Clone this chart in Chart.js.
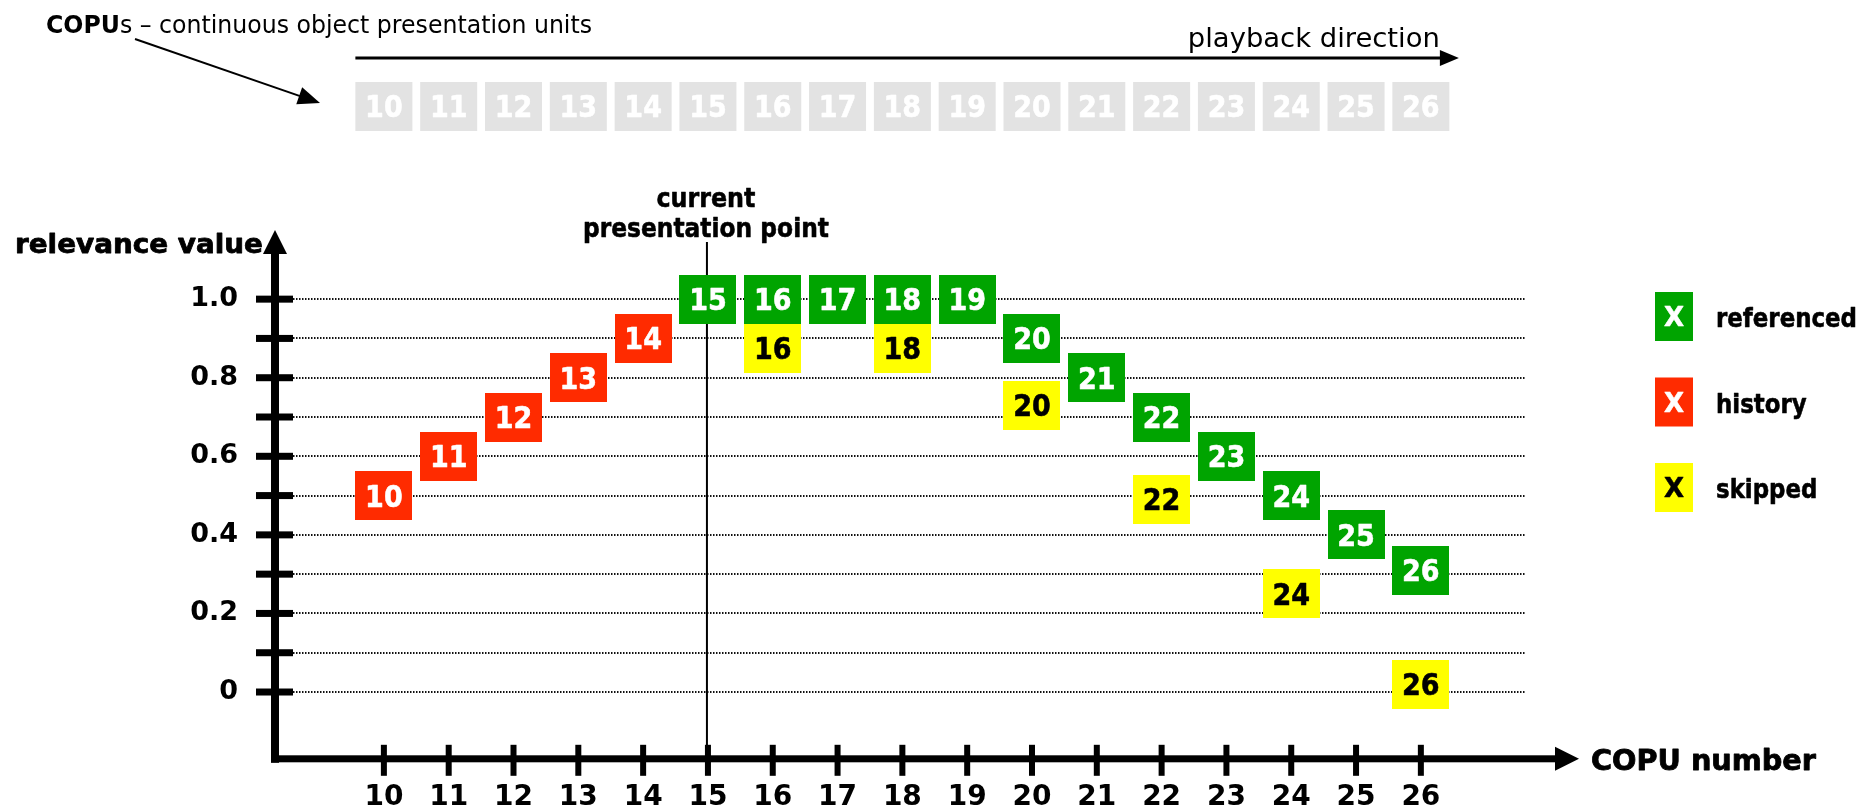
<!DOCTYPE html>
<html>
<head>
<meta charset="utf-8">
<script src="https://cdn.jsdelivr.net/npm/chart.js@4/dist/chart.umd.min.js"></script>
<style>
html,body{margin:0;padding:0;background:#ffffff;}
canvas{display:block;}
</style>
</head>
<body>
<canvas id="c" width="1872" height="812"></canvas>
<script>
// ---------------- DATA ----------------
const copuNumbers   = [10,11,12,13,14,15,16,17,18,19,20,21,22,23,24,25,26];
const historyX      = [10,11,12,13,14];
const historyY      = [0.50,0.60,0.70,0.80,0.90];
const referencedX   = [15,16,17,18,19,20,21,22,23,24,25,26];
const referencedY   = [1.00,1.00,1.00,1.00,1.00,0.90,0.80,0.70,0.60,0.50,0.40,0.31];
const skippedX      = [16,18,20,22,24,26];
const skippedY      = [0.875,0.875,0.73,0.49,0.25,0.02];
const yTickValues   = [0,0.1,0.2,0.3,0.4,0.5,0.6,0.7,0.8,0.9,1.0];
const yTickLabels   = ['0','','0.2','','0.4','','0.6','','0.8','','1.0'];
const xTickValues   = copuNumbers;
const xTickLabels   = ['10','11','12','13','14','15','16','17','18','19','20','21','22','23','24','25','26'];
const currentPoint  = 15;
const legendLabels  = ['referenced','history','skipped'];
const legendMark    = 'X';
const yAxisTitle    = 'relevance value';
const xAxisTitle    = 'COPU number';
const currentTitle  = ['current','presentation point'];
const topTitleBold  = 'COPU';
const topTitleRest  = 's \u2013 continuous object presentation units';
const playbackText  = 'playback direction';

// ---------------- STYLE ----------------
const FONT = "'DejaVu Sans', Verdana, sans-serif";
const COL = { referenced:'#00a400', history:'#ff2b00', skipped:'#ffff00', grey:'#e3e3e3' };
const BOX_W = 57, BOX_H = 49;
const X_MIN = 8.32, X_MAX = 28.44, Y_MIN = -0.17, Y_MAX = 1.176;
const GRID_END = 27.62;
const NUM_SIZE = 30, NUM_K = 0.9;

function makeBox(color, w, h) {
  const c = document.createElement('canvas');
  c.width = w; c.height = h;
  const g = c.getContext('2d');
  g.fillStyle = color; g.fillRect(0, 0, w, h);
  return c;
}

// draw text; k = horizontal scale factor (targetW overrides)
function txt(ctx, s, x, y, size, bold, color, align, targetW, k, heavy) {
  ctx.save();
  ctx.font = (bold ? 'bold ' : '') + size + 'px ' + FONT;
  ctx.fillStyle = color;
  ctx.strokeStyle = color;
  ctx.textBaseline = 'alphabetic';
  ctx.textAlign = 'left';
  const w = ctx.measureText(s).width;
  const kk = targetW ? targetW / w : (k || 1);
  const x0 = align === 'center' ? x - w * kk / 2 : (align === 'right' ? x - w * kk : x);
  ctx.translate(x0, y);
  ctx.scale(kk, 1);
  ctx.fillText(s, 0, 0);
  if (heavy) { ctx.lineWidth = heavy; ctx.lineJoin = 'round'; ctx.strokeText(s, 0, 0); }
  ctx.restore();
}

function arrowHead(ctx, tx, ty, ang, len, half) {
  ctx.save();
  ctx.translate(tx, ty);
  ctx.rotate(ang);
  ctx.beginPath();
  ctx.moveTo(0, 0);
  ctx.lineTo(-len, -half);
  ctx.lineTo(-len, half);
  ctx.closePath();
  ctx.fill();
  ctx.restore();
}

const decor = {
  id: 'decor',
  beforeDatasetsDraw(chart) {
    const ctx = chart.ctx, xs = chart.scales.x, ys = chart.scales.y, ca = chart.chartArea;
    ctx.save();
    // dotted grid lines
    ctx.strokeStyle = '#111111';
    ctx.lineWidth = 2;
    ctx.setLineDash([1.5, 1.5]);
    yTickValues.forEach(v => {
      const y = Math.round(ys.getPixelForValue(v));
      ctx.beginPath();
      ctx.moveTo(ca.left + 18, y);
      ctx.lineTo(xs.getPixelForValue(GRID_END), y);
      ctx.stroke();
    });
    ctx.setLineDash([]);
    // current presentation point line
    const cx = xs.getPixelForValue(currentPoint) - 1;
    ctx.strokeStyle = '#000';
    ctx.lineWidth = 2;
    ctx.beginPath();
    ctx.moveTo(cx, 242);
    ctx.lineTo(cx, ca.bottom);
    ctx.stroke();
    // y axis with arrow and ticks
    ctx.fillStyle = '#000';
    ctx.fillRect(ca.left - 4, 250, 8, ca.bottom + 4 - 250);
    arrowHead(ctx, ca.left, ca.top, -Math.PI / 2, 24, 12);
    yTickValues.forEach(v => {
      const y = ys.getPixelForValue(v);
      ctx.fillRect(ca.left - 19, y - 3.5, 37, 7);
    });
    // x axis with arrow and ticks
    ctx.fillRect(ca.left - 4, ca.bottom - 3.5, ca.right - 22 - (ca.left - 4), 7);
    arrowHead(ctx, ca.right, ca.bottom, 0, 24, 12);
    xTickValues.forEach(v => {
      const x = xs.getPixelForValue(v);
      ctx.fillRect(x - 3, ca.bottom - 14, 6, 31);
    });
    ctx.restore();
  },
  afterDatasetsDraw(chart) {
    const ctx = chart.ctx;
    chart.data.datasets.forEach((ds, d) => {
      const meta = chart.getDatasetMeta(d);
      meta.data.forEach((pt, i) => {
        txt(ctx, String(ds.data[i].x), pt.x, pt.y + 0.729 * NUM_SIZE / 2, NUM_SIZE, true, ds.textColor, 'center', null, NUM_K, 0.6);
      });
    });
  },
  afterDraw(chart) {
    const ctx = chart.ctx, xs = chart.scales.x, ca = chart.chartArea;
    ctx.save();
    // top row of COPUs
    copuNumbers.forEach(n => {
      const x = xs.getPixelForValue(n);
      ctx.fillStyle = COL.grey;
      ctx.fillRect(x - BOX_W / 2, 82, BOX_W, BOX_H);
      txt(ctx, String(n), x, 106.5 + 0.729 * NUM_SIZE / 2, NUM_SIZE, true, '#ffffff', 'center', null, NUM_K, 0.6);
    });
    // playback direction arrow
    const pStart = xs.getPixelForValue(copuNumbers[0]) - BOX_W / 2;
    const pEnd = xs.getPixelForValue(copuNumbers[copuNumbers.length - 1]) + 38;
    ctx.fillStyle = '#000';
    ctx.fillRect(pStart, 56.5, pEnd - 18 - pStart, 3);
    arrowHead(ctx, pEnd, 58, 0, 19, 8);
    txt(ctx, playbackText, pEnd - 19, 47, 26, false, '#000', 'right', 252);
    // COPUs title (bold + regular)
    ctx.font = 'bold 25px ' + FONT;
    const wb = ctx.measureText(topTitleBold).width;
    ctx.font = '25px ' + FONT;
    const wr = ctx.measureText(topTitleRest).width;
    const k = 546 / (wb + wr);
    txt(ctx, topTitleBold, 46, 33, 25, true, '#000', 'left', wb * k);
    txt(ctx, topTitleRest, 46 + wb * k, 33, 25, false, '#000', 'left', wr * k);
    // COPUs arrow
    ctx.strokeStyle = '#000';
    ctx.lineWidth = 2;
    const ax0 = 135, ay0 = 39, ax1 = 320, ay1 = 103;
    const ang = Math.atan2(ay1 - ay0, ax1 - ax0);
    ctx.beginPath();
    ctx.moveTo(ax0, ay0);
    ctx.lineTo(ax1 - 18 * Math.cos(ang), ay1 - 18 * Math.sin(ang));
    ctx.stroke();
    arrowHead(ctx, ax1, ay1, ang, 22, 9);
    // axis titles
    txt(ctx, yAxisTitle, 15, 253, 27, true, '#000', 'left', 248, null, 0.8);
    txt(ctx, xAxisTitle, ca.right + 12, 770, 28, true, '#000', 'left', 225, null, 0.8);
    const cpx = xs.getPixelForValue(currentPoint) - 2;
    txt(ctx, currentTitle[0], cpx, 207, 27, true, '#000', 'center', 99, null, 0.6);
    txt(ctx, currentTitle[1], cpx, 237, 27, true, '#000', 'center', 246, null, 0.6);
    // legend
    const legendColors = [COL.referenced, COL.history, COL.skipped];
    const markColors = ['#ffffff', '#ffffff', '#000000'];
    ctx.font = 'bold 27px ' + FONT;
    const kl = 141 / ctx.measureText(legendLabels[0]).width;
    legendLabels.forEach((lab, i) => {
      const cy = 316.5 + i * 85.5;
      ctx.fillStyle = legendColors[i];
      ctx.fillRect(1655, cy - BOX_H / 2, 38, BOX_H);
      txt(ctx, legendMark, 1674, cy + 9.5, 26, true, markColors[i], 'center', null, 1, 0.5);
      ctx.font = 'bold 27px ' + FONT;
      const w = ctx.measureText(lab).width;
      txt(ctx, lab, 1716, cy + 10.5, 27, true, '#000', 'left', w * kl, null, 0.6);
    });
    ctx.restore();
  }
};

const pts = (xs, ys) => xs.map((x, i) => ({ x: x, y: ys[i] }));

new Chart(document.getElementById('c'), {
  type: 'scatter',
  data: {
    datasets: [
      { label: legendLabels[1], data: pts(historyX, historyY), pointStyle: makeBox(COL.history, BOX_W, BOX_H), textColor: '#ffffff', pointRadius: 25, pointHoverRadius: 25 },
      { label: legendLabels[0], data: pts(referencedX, referencedY), pointStyle: makeBox(COL.referenced, BOX_W, BOX_H), textColor: '#ffffff', pointRadius: 25, pointHoverRadius: 25 },
      { label: legendLabels[2], data: pts(skippedX, skippedY), pointStyle: makeBox(COL.skipped, BOX_W, BOX_H), textColor: '#000000', pointRadius: 25, pointHoverRadius: 25 }
    ]
  },
  options: {
    responsive: false,
    animation: false,
    devicePixelRatio: 1,
    layout: { padding: { left: 0, right: 293, top: 230, bottom: 0 } },
    plugins: { legend: { display: false }, tooltip: { enabled: false } },
    events: [],
    scales: {
      x: {
        type: 'linear', position: 'bottom', min: X_MIN, max: X_MAX,
        afterBuildTicks: s => { s.ticks = xTickValues.map(v => ({ value: v })); },
        afterFit: s => { s.height = 53; },
        grid: { display: false, drawTicks: false },
        border: { display: false },
        ticks: {
          autoSkip: false, maxRotation: 0, minRotation: 0, padding: 22, color: '#000',
          font: { family: FONT, size: 28, weight: 'bold' },
          callback: (v, i) => xTickLabels[i]
        }
      },
      y: {
        type: 'linear', position: 'left', min: Y_MIN, max: Y_MAX,
        afterBuildTicks: s => { s.ticks = yTickValues.map(v => ({ value: v })); },
        afterFit: s => { s.width = 275; },
        grid: { display: false, drawTicks: false },
        border: { display: false },
        ticks: {
          autoSkip: false, padding: 37, color: '#000',
          font: { family: FONT, size: 27, weight: 'bold' },
          callback: (v, i) => yTickLabels[i]
        }
      }
    }
  },
  plugins: [decor]
});
</script>
</body>
</html>
